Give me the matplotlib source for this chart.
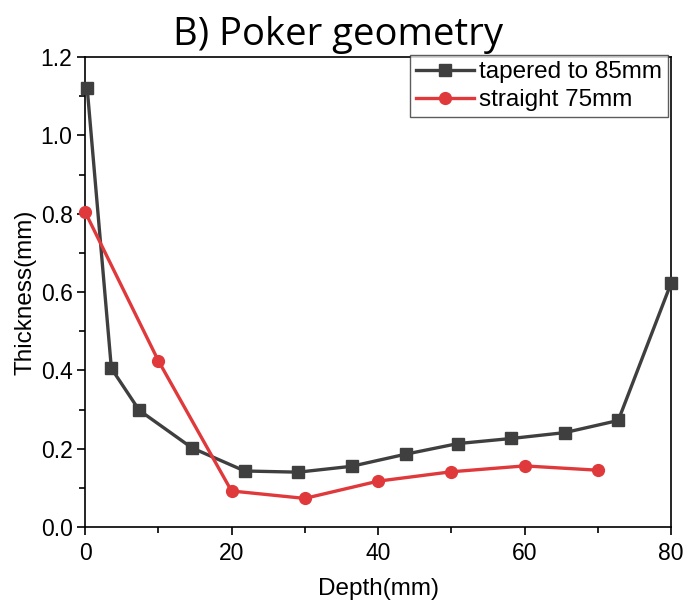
import matplotlib
matplotlib.use("Agg")
import matplotlib.pyplot as plt
from matplotlib.ticker import MultipleLocator

# tapered poker, 85 mm
tapered_depth = [0.3, 3.6, 7.4, 14.6, 21.8, 29.1, 36.4, 43.8, 50.9, 58.2, 65.5, 72.8, 80.0]
tapered_thick = [1.12, 0.405, 0.298, 0.202, 0.143, 0.140, 0.155, 0.186, 0.213, 0.226, 0.241, 0.272, 0.622]

# straight poker, 75 mm
straight_depth = [0, 10, 20, 30, 40, 50, 60, 70]
straight_thick = [0.805, 0.425, 0.092, 0.073, 0.117, 0.141, 0.156, 0.145]

plt.rcParams["font.family"] = ["Liberation Sans", "DejaVu Sans"]

fig = plt.figure(figsize=(6.83, 6.03), dpi=100)
ax = fig.add_axes([85 / 683, 1 - 527 / 603, 586 / 683, 470 / 603])

ax.plot(tapered_depth, tapered_thick, color="#3f3f3f", lw=2.4, marker="s",
        ms=8, label="tapered to 85mm", clip_on=False, zorder=3)
ax.plot(straight_depth, straight_thick, color="#e0393b", lw=2.4, marker="o",
        ms=8.5, label="straight 75mm", clip_on=False, zorder=3)

ax.set_xlim(0, 80)
ax.set_ylim(0, 1.2)
ax.xaxis.set_major_locator(MultipleLocator(20))
ax.xaxis.set_minor_locator(MultipleLocator(10))
ax.yaxis.set_major_locator(MultipleLocator(0.2))
ax.yaxis.set_minor_locator(MultipleLocator(0.1))
ax.yaxis.set_major_formatter(plt.FormatStrFormatter("%.1f"))
ax.tick_params(which="both", direction="out", top=False, right=False,
               labelsize=16.5, width=1.2)
ax.tick_params(which="major", length=6)
ax.tick_params(which="minor", length=4)
ax.tick_params(axis="y", pad=3)
ax.tick_params(axis="x", pad=5)
for sp in ax.spines.values():
    sp.set_linewidth(1.2)

ax.set_xlabel("Depth(mm)", fontsize=17.5, labelpad=9)
ax.set_ylabel("Thickness(mm)", fontsize=17.5, labelpad=3)
fig.text(338 / 683, 1 - 45 / 603, "B) Poker geometry", ha="center",
         va="baseline", fontsize=27.5, family=["Open Sans", "DejaVu Sans"])

leg = ax.legend(loc="upper right", bbox_to_anchor=((668 - 85) / 586, 1.004),
                fontsize=17.5, frameon=True, fancybox=False, edgecolor="#333333",
                handlelength=2.4, handletextpad=0.2, borderpad=0.25,
                labelspacing=0.25, borderaxespad=0)
leg.get_frame().set_linewidth(1.0)

fig.savefig("out.png", dpi=100)
